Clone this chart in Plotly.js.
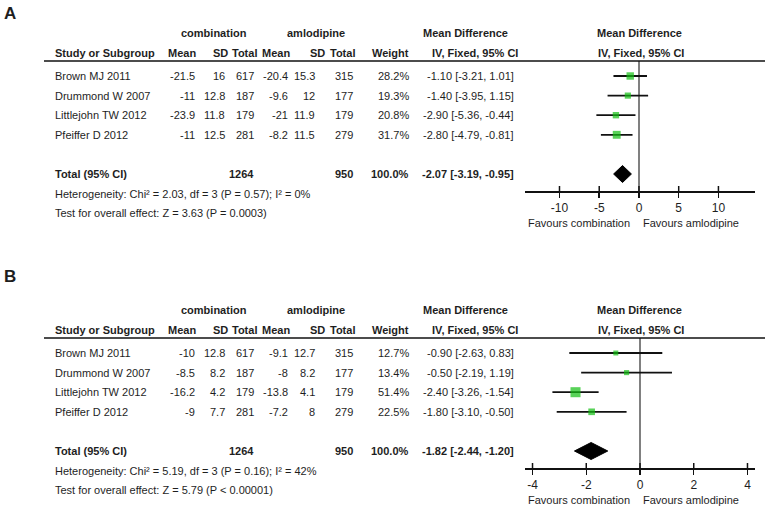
<!DOCTYPE html>
<html>
<head>
<meta charset="utf-8">
<script src="https://cdn.plot.ly/plotly-3.0.1.min.js"></script>
<style>html,body{margin:0;padding:0;background:#fff;}#chart{width:770px;height:515px;}</style>
</head>
<body>
<div id="chart"></div>
<script>
// ---------------- DATA ----------------
const studies = ['Brown MJ 2011', 'Drummond W 2007', 'Littlejohn TW 2012', 'Pfeiffer D 2012'];
const combTotal = [617, 187, 179, 281];
const amlTotal = [315, 177, 179, 279];
const combTotalSum = 1264;
const amlTotalSum = 950;
const groupLabels = ['combination', 'amlodipine'];
const colHeaders = ['Study or Subgroup', 'Mean', 'SD', 'Total', 'Mean', 'SD', 'Total', 'Weight', 'IV, Fixed, 95% CI'];
const favourLabels = ['Favours combination', 'Favours amlodipine'];

// Panel A
const aCombMean = [-21.5, -11, -23.9, -11];
const aCombSD = [16, 12.8, 11.8, 12.5];
const aAmlMean = [-20.4, -9.6, -21, -8.2];
const aAmlSD = [15.3, 12, 11.9, 11.5];
const aWeight = [28.2, 19.3, 20.8, 31.7];
const aMD = [-1.10, -1.40, -2.90, -2.80];
const aLow = [-3.21, -3.95, -5.36, -4.79];
const aHigh = [1.01, 1.15, -0.44, -0.81];
const aTotalMD = -2.07, aTotalLow = -3.19, aTotalHigh = -0.95;
const aTicks = [-10, -5, 0, 5, 10];
const aHet = 'Heterogeneity: Chi² = 2.03, df = 3 (P = 0.57); I² = 0%';
const aTest = 'Test for overall effect: Z = 3.63 (P = 0.0003)';

// Panel B
const bCombMean = [-10, -8.5, -16.2, -9];
const bCombSD = [12.8, 8.2, 4.2, 7.7];
const bAmlMean = [-9.1, -8, -13.8, -7.2];
const bAmlSD = [12.7, 8.2, 4.1, 8];
const bWeight = [12.7, 13.4, 51.4, 22.5];
const bMD = [-0.90, -0.50, -2.40, -1.80];
const bLow = [-2.63, -2.19, -3.26, -3.10];
const bHigh = [0.83, 1.19, -1.54, -0.50];
const bTotalMD = -1.82, bTotalLow = -2.44, bTotalHigh = -1.20;
const bTicks = [-4, -2, 0, 2, 4];
const bHet = 'Heterogeneity: Chi² = 5.19, df = 3 (P = 0.16); I² = 42%';
const bTest = 'Test for overall effect: Z = 5.79 (P < 0.00001)';

// ---------------- LAYOUT HELPERS ----------------
const W = 770, H = 515;
const FONT = '"Liberation Sans", Arial, sans-serif';
const FS = 11;
const TXT = '#1e1e1e';
const PITCH = 19.6;
const annotations = [];
const shapes = [];
const traces = [];
const layoutAxes = {};

function txt(x, y, text, anchor, bold, size) {
  annotations.push({
    xref: 'paper', yref: 'paper', x: x / W, y: 1 - y / H,
    text: bold ? '<b>' + text + '</b>' : text,
    showarrow: false, xanchor: anchor, yanchor: 'middle', borderpad: 0,
    font: { family: FONT, size: size || FS, color: TXT }
  });
}
const fmtCI = (m, l, h) => m.toFixed(2) + ' [' + l.toFixed(2) + ', ' + h.toFixed(2) + ']';

function panel(p) {
  const o = p.offset;
  const rowY = i => o + 76 + i * PITCH;
  const ruleY = o + 61, axisY = o + 191;
  // panel letter
  txt(3, p.labelY, p.label, 'left', true, 17);
  // header row 1
  txt(214, o + 33, groupLabels[0], 'center', true);
  txt(316, o + 33, groupLabels[1], 'center', true);
  txt(465, o + 33, 'Mean Difference', 'center', true);
  txt(639, o + 33, 'Mean Difference', 'center', true);
  // header row 2
  const hy = o + 53;
  txt(54, hy, colHeaders[0], 'left', true);
  txt(197, hy, colHeaders[1], 'right', true);
  txt(229, hy, colHeaders[2], 'right', true);
  txt(258, hy, colHeaders[3], 'right', true);
  txt(291, hy, colHeaders[4], 'right', true);
  txt(326, hy, colHeaders[5], 'right', true);
  txt(356, hy, colHeaders[6], 'right', true);
  txt(410, hy, colHeaders[7], 'right', true);
  txt(475, hy, colHeaders[8], 'center', true);
  txt(641, hy, colHeaders[8], 'center', true);
  // rule
  shapes.push({ type: 'line', xref: 'paper', yref: 'paper', x0: 44 / W, x1: 765 / W,
    y0: 1 - ruleY / H, y1: 1 - ruleY / H, line: { color: '#111', width: 1.6 } });
  // study rows
  studies.forEach((s, i) => {
    const y = rowY(i);
    txt(54, y, s, 'left', false);
    txt(196, y, String(p.cm[i]), 'right');
    txt(226, y, String(p.cs[i]), 'right');
    txt(255, y, String(combTotal[i]), 'right');
    txt(289, y, String(p.am[i]), 'right');
    txt(316, y, String(p.as[i]), 'right');
    txt(354, y, String(amlTotal[i]), 'right');
    txt(410, y, p.w[i].toFixed(1) + '%', 'right');
    txt(515, y, fmtCI(p.md[i], p.lo[i], p.hi[i]), 'right');
  });
  // total row
  const ty = rowY(5);
  txt(54, ty, 'Total (95% CI)', 'left', true);
  txt(255, ty, String(combTotalSum), 'right', true);
  txt(354, ty, String(amlTotalSum), 'right', true);
  txt(410, ty, '100.0%', 'right', true);
  txt(515, ty, fmtCI(p.tmd, p.tlo, p.thi), 'right', true);
  txt(54, ty + 20, p.het, 'left');
  txt(54, ty + 39, p.test, 'left');
  // favours
  txt(579, axisY + 32, favourLabels[0], 'center');
  txt(691, axisY + 32, favourLabels[1], 'center');

  // axes
  const xa = 'xaxis' + p.ax, ya = 'yaxis' + p.ax;
  const xr = 'x' + p.ax, yr = 'y' + p.ax;
  const yTop = (76 - 61) / PITCH, yBot = (191 - 76) / PITCH;
  layoutAxes[xa] = {
    domain: [525 / W, 755 / W], range: p.xrange, anchor: yr,
    showgrid: false, zeroline: true, zerolinecolor: '#808080', zerolinewidth: 1.2,
    showline: true, linecolor: '#111', linewidth: 2,
    ticks: 'outside', ticklen: 5, tickwidth: 1.5, tickcolor: '#111',
    tickmode: 'array', tickvals: p.ticks, ticktext: p.ticks.map(String),
    tickfont: { family: FONT, size: 12, color: TXT }, fixedrange: true
  };
  layoutAxes[ya] = {
    domain: [1 - axisY / H, 1 - ruleY / H], range: [yBot, -yTop], anchor: xr,
    showgrid: false, zeroline: false, showline: false, showticklabels: false, ticks: '', fixedrange: true
  };
  // upper half of tick marks
  p.ticks.forEach(t => shapes.push({ type: 'line', xref: xr, yref: 'paper', x0: t, x1: t,
    y0: 1 - axisY / H, y1: 1 - (axisY - 5) / H, line: { color: '#111', width: 1.5 } }));

  // study markers with CIs
  traces.push({
    type: 'scatter', mode: 'markers', xaxis: xr, yaxis: yr,
    x: p.md, y: studies.map((s, i) => i),
    marker: { symbol: 'square', color: '#12bf12', size: p.w.map(w => 1.4 * Math.sqrt(w)), line: { width: 0 } },
    error_x: { type: 'data', symmetric: false,
      array: p.hi.map((h, i) => h - p.md[i]), arrayminus: p.lo.map((l, i) => p.md[i] - l),
      color: '#111', thickness: 1.8, width: 0 },
    hoverinfo: 'skip', showlegend: false, cliponaxis: false
  });
  // pooled diamond
  const hh = 8.5 / PITCH;
  traces.push({
    type: 'scatter', mode: 'lines', xaxis: xr, yaxis: yr,
    x: [p.tlo, p.tmd, p.thi, p.tmd, p.tlo], y: [5, 5 - hh, 5, 5 + hh, 5],
    fill: 'toself', fillcolor: '#000', line: { color: '#000', width: 1 },
    hoverinfo: 'skip', showlegend: false
  });
}

panel({ label: 'A', labelY: 13, offset: 0, ax: '',
  cm: aCombMean, cs: aCombSD, am: aAmlMean, as: aAmlSD, w: aWeight,
  md: aMD, lo: aLow, hi: aHigh, tmd: aTotalMD, tlo: aTotalLow, thi: aTotalHigh,
  het: aHet, test: aTest, ticks: aTicks, xrange: [-14.34, 14.6] });
panel({ label: 'B', labelY: 276, offset: 277, ax: '2',
  cm: bCombMean, cs: bCombSD, am: bAmlMean, as: bAmlSD, w: bWeight,
  md: bMD, lo: bLow, hi: bHigh, tmd: bTotalMD, tlo: bTotalLow, thi: bTotalHigh,
  het: bHet, test: bTest, ticks: bTicks, xrange: [-4.28, 4.28] });

const layout = Object.assign({
  width: W, height: H, margin: { l: 0, r: 0, t: 0, b: 0 },
  paper_bgcolor: '#fff', plot_bgcolor: 'rgba(0,0,0,0)',
  showlegend: false, annotations: annotations, shapes: shapes,
  font: { family: FONT, size: FS, color: TXT }
}, layoutAxes);

Plotly.newPlot('chart', traces, layout, { staticPlot: true, displayModeBar: false });
</script>
</body>
</html>
